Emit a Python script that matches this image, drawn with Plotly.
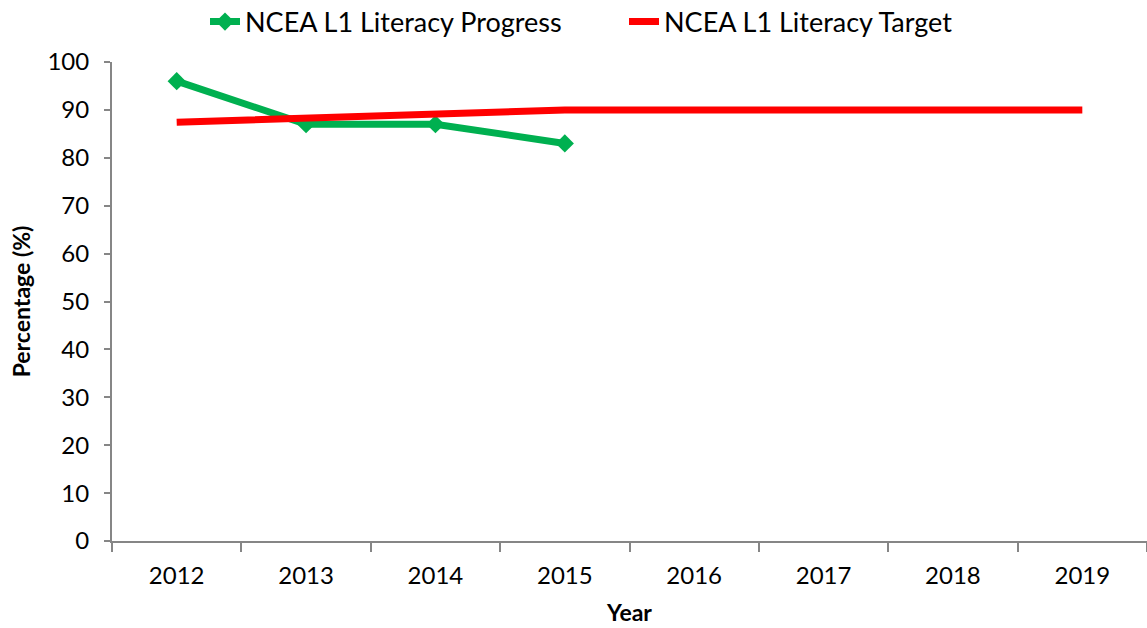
import plotly.graph_objects as go

years = ["2012", "2013", "2014", "2015", "2016", "2017", "2018", "2019"]
progress = [96, 87, 87, 83]
target = [87.4, 88.3, 89.1, 90, 90, 90, 90, 90]

FONT = "Lato"
AXIS_GREY = "#868686"
W, H = 1147, 628

fig = go.Figure()
fig.add_trace(go.Scatter(
    x=years[:len(progress)], y=progress, mode="lines+markers",
    name="NCEA L1 Literacy Progress",
    line=dict(color="#00B050", width=7),
    marker=dict(symbol="diamond", size=14, color="#00B050"),
    legend="legend",
))
fig.add_trace(go.Scatter(
    x=years, y=target, mode="lines",
    name="NCEA L1 Literacy Target",
    line=dict(color="#FF0000", width=7),
    legend="legend2",
))

legend_style = dict(orientation="h", xref="container", yref="container",
                    xanchor="left", yanchor="middle", y=1 - 22 / H,
                    font=dict(size=27), bgcolor="rgba(0,0,0,0)")

fig.update_layout(
    width=W, height=H,
    margin=dict(l=112, r=0, t=62, b=87, autoexpand=False),
    paper_bgcolor="white", plot_bgcolor="white",
    font=dict(family=FONT, size=24, color="black"),
    showlegend=True,
    legend=dict(legend_style, x=205 / W),
    legend2=dict(legend_style, x=624 / W),
    xaxis=dict(
        type="category", range=[-0.5, 7.5],
        showline=True, linecolor=AXIS_GREY, linewidth=2,
        ticks="outside", tickson="boundaries", ticklen=9, tickwidth=2, tickcolor=AXIS_GREY,
        ticklabelstandoff=12,
        showgrid=False, zeroline=False,
        title=dict(text="<b>Year</b>", font=dict(size=23), standoff=17),
    ),
    yaxis=dict(
        range=[0, 100], dtick=10,
        showline=True, linecolor=AXIS_GREY, linewidth=2,
        ticks="outside", ticklen=6, tickwidth=2, tickcolor=AXIS_GREY,
        ticklabelstandoff=10,
        showgrid=False, zeroline=False,
        title=dict(text="<b>Percentage (%)</b>", font=dict(size=23), standoff=10),
    ),
)

fig.write_html("out.html")
